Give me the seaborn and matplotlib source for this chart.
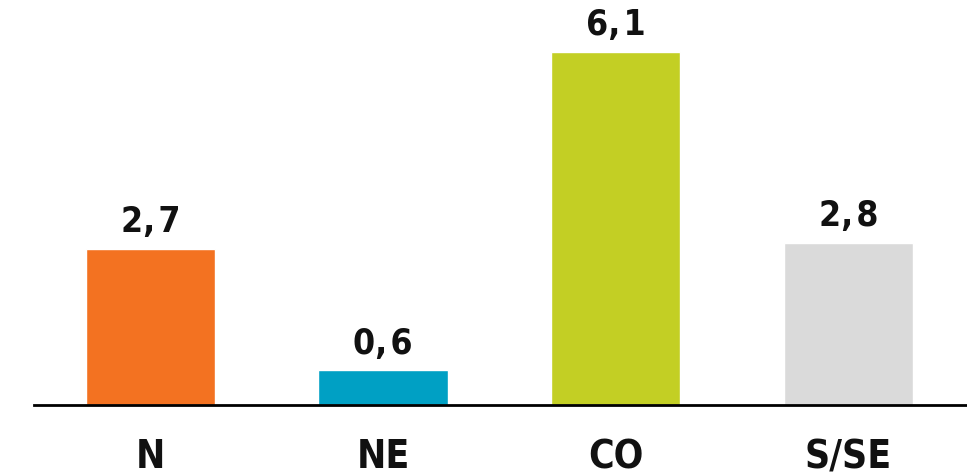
import matplotlib
matplotlib.use("Agg")
import matplotlib.pyplot as plt
import seaborn as sns
import pandas as pd

regions = ["N", "NE", "CO", "S/SE"]
values = [2.7, 0.6, 6.1, 2.8]
colors = ["#F37221", "#00A0C4", "#C3CF24", "#DADADA"]

sns.set_theme(style="white")
plt.rcParams["font.family"] = ["DejaVu Sans"]
plt.rcParams["font.stretch"] = "condensed"

df = pd.DataFrame({"region": regions, "value": values})

fig = plt.figure(figsize=(9.67, 4.73), dpi=100)
ax = fig.add_axes([34 / 967, 1 - 405 / 473, 1 - 34 / 967, 405 / 473])

sns.barplot(data=df, x="region", y="value", hue="region", order=regions,
            palette=colors, width=0.555, saturation=1, legend=False, ax=ax)

ax.set_xlim(-0.5, 3.51)
ax.set_ylim(0, 7.0)

# value labels with a hair space after the decimal comma
for i, v in enumerate(values):
    ax.annotate(f"{v:.1f}".replace(".", ",\u200a"), xy=(i, v), xytext=(0, 7),
                textcoords="offset points", ha="center", va="bottom",
                fontsize=25.5, fontweight="bold", color="#111111")

for side in ["top", "right", "left"]:
    ax.spines[side].set_visible(False)
ax.spines["bottom"].set_color("black")
ax.spines["bottom"].set_linewidth(2)

ax.set_yticks([])
ax.set_xlabel("")
ax.set_ylabel("")
ax.tick_params(axis="x", length=0, pad=24, labelsize=28)
for lbl in ax.get_xticklabels():
    lbl.set_fontweight("bold")
    lbl.set_color("#111111")

fig.savefig("out.png", dpi=100)
